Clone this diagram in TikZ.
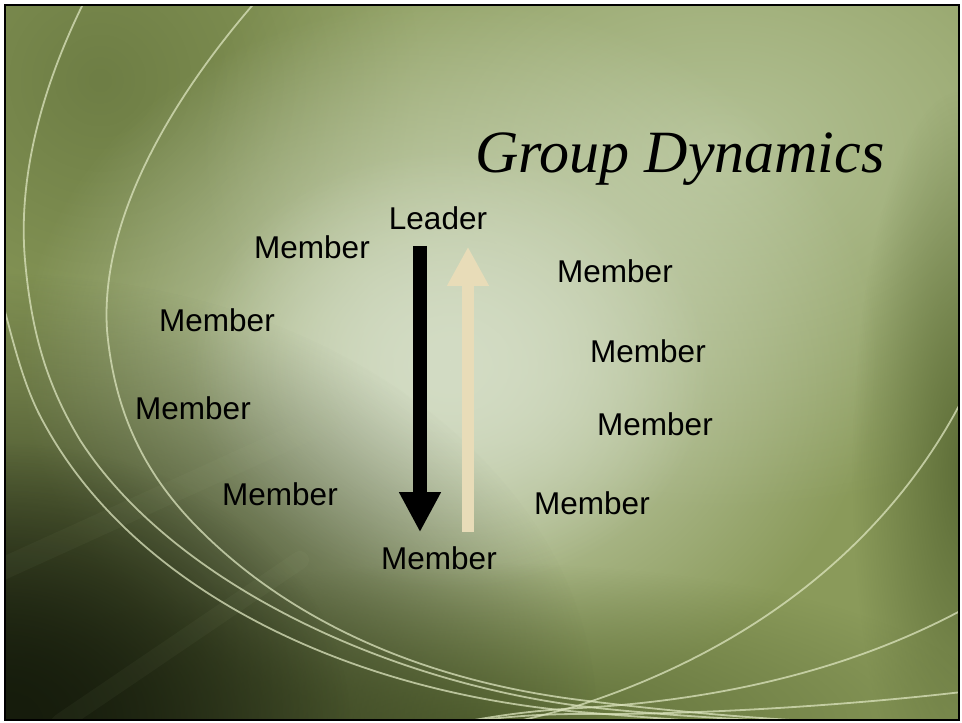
\documentclass[tikz,border=0pt]{standalone}
\usepackage{fontspec}
\setmainfont{Liberation Sans}
\newfontfamily\titlefont{Liberation Serif}
\usetikzlibrary{arrows.meta,fadings}
\tikzfading[name=softglow,inner color=transparent!0,outer color=transparent!100]
\definecolor{slideolive}{HTML}{8A9A5A}
\definecolor{glowgreen}{HTML}{D3DCC4}
\definecolor{paleolive}{HTML}{B4C296}
\definecolor{deepolive}{HTML}{5E6E38}
\definecolor{midolive}{HTML}{6E7E45}
\definecolor{nightolive}{HTML}{161C0C}
\definecolor{swooshcol}{HTML}{DCE4BE}
\definecolor{creamarrow}{HTML}{E8DCB8}
\begin{document}
\begin{tikzpicture}[x=1pt,y=-1pt,
    member/.style={font=\fontsize{31.5}{31.5}\selectfont,inner sep=0pt},
    swoosh/.style={draw=swooshcol,line width=1.8pt,opacity=0.75},
    downarrow/.style={line width=14pt,-{Triangle[width=39pt,length=40pt]}},
    uparrow/.style={creamarrow,line width=12pt,-{Triangle[width=39pt,length=39pt]}}]
    \useasboundingbox (0,0) rectangle (962,723);
    %% Background
    \begin{scope}
        \clip (5,5) rectangle (959,720);
        \fill[slideolive] (5,5) rectangle (959,720);
        \fill[midolive,path fading=softglow] (100,80) ellipse (320 and 320);
        \fill[paleolive,path fading=softglow] (720,150) ellipse (520 and 360);
        \fill[glowgreen,path fading=softglow] (450,360) ellipse (430 and 360);
        \fill[glowgreen,path fading=softglow] (450,370) ellipse (260 and 220);
        \fill[deepolive,path fading=softglow] (962,470) ellipse (110 and 380);
        \fill[deepolive,path fading=softglow] (480,723) ellipse (520 and 160);
        \fill[nightolive,path fading=softglow] (0,723) ellipse (600 and 450);
        \fill[nightolive,path fading=softglow] (0,723) ellipse (350 and 280);
        %% light streaks
        \draw[paleolive,line width=22pt,opacity=0.05,line cap=round] (0,570) -- (330,420);
        \draw[paleolive,line width=18pt,opacity=0.05,line cap=round] (60,723) -- (300,560);
        %% Swooshes
        \draw[swoosh] (85,0) .. controls (40,90) and (18,180) .. (25,260)
            .. controls (32,340) and (50,390) .. (80,440)
            .. controls (170,580) and (380,680) .. (580,706)
            .. controls (680,718) and (800,722) .. (900,728);
        \draw[swoosh] (0,292) .. controls (15,350) and (25,390) .. (45,425)
            .. controls (130,580) and (330,690) .. (580,712)
            .. controls (700,722) and (800,728) .. (900,735);
        \draw[swoosh] (257,0) .. controls (170,100) and (100,220) .. (107,330)
            .. controls (115,420) and (150,480) .. (200,530)
            .. controls (290,620) and (420,680) .. (580,700)
            .. controls (700,715) and (800,722) .. (900,725);
        \draw[swoosh] (962,400) .. controls (900,520) and (780,640) .. (580,705)
            .. controls (500,728) and (450,735) .. (400,740);
        \draw[swoosh] (962,610) .. controls (850,670) and (720,700) .. (580,708)
            .. controls (500,712) and (450,725) .. (400,735);
        \draw[swoosh] (962,692) .. controls (850,705) and (700,715) .. (580,714)
            .. controls (500,714) and (450,725) .. (400,732);
    \end{scope}
    \draw[black,line width=2pt] (5,5) rectangle (959,720);
    %% Title
    \node[font=\titlefont\itshape\fontsize{60}{60}\selectfont,inner sep=0pt,anchor=base] (title) at (680,172) {Group Dynamics};
    %% Leader and members
    \node[member] (lead) at (438,218) {Leader};
    \node[member] (bot) at (439,558) {Member};
    \node[member] (mlA) at (312,247) {Member};
    \node[member] (mlB) at (217,320) {Member};
    \node[member] (mlC) at (193,408) {Member};
    \node[member] (mlD) at (280,494) {Member};
    \node[member] (mrA) at (615,271) {Member};
    \node[member] (mrB) at (648,351) {Member};
    \node[member] (mrC) at (655,424) {Member};
    \node[member] (mrD) at (592,503) {Member};
    %% Arrows
    \coordinate (dnx) at (420,0);
    \coordinate (upx) at (468,0);
    \draw[downarrow,shorten <=16pt,shorten >=14pt] (lead.south -| dnx) -- (bot.north -| dnx);
    \draw[uparrow,shorten <=14pt,shorten >=17pt] (bot.north -| upx) -- (lead.south -| upx);
\end{tikzpicture}
\end{document}
